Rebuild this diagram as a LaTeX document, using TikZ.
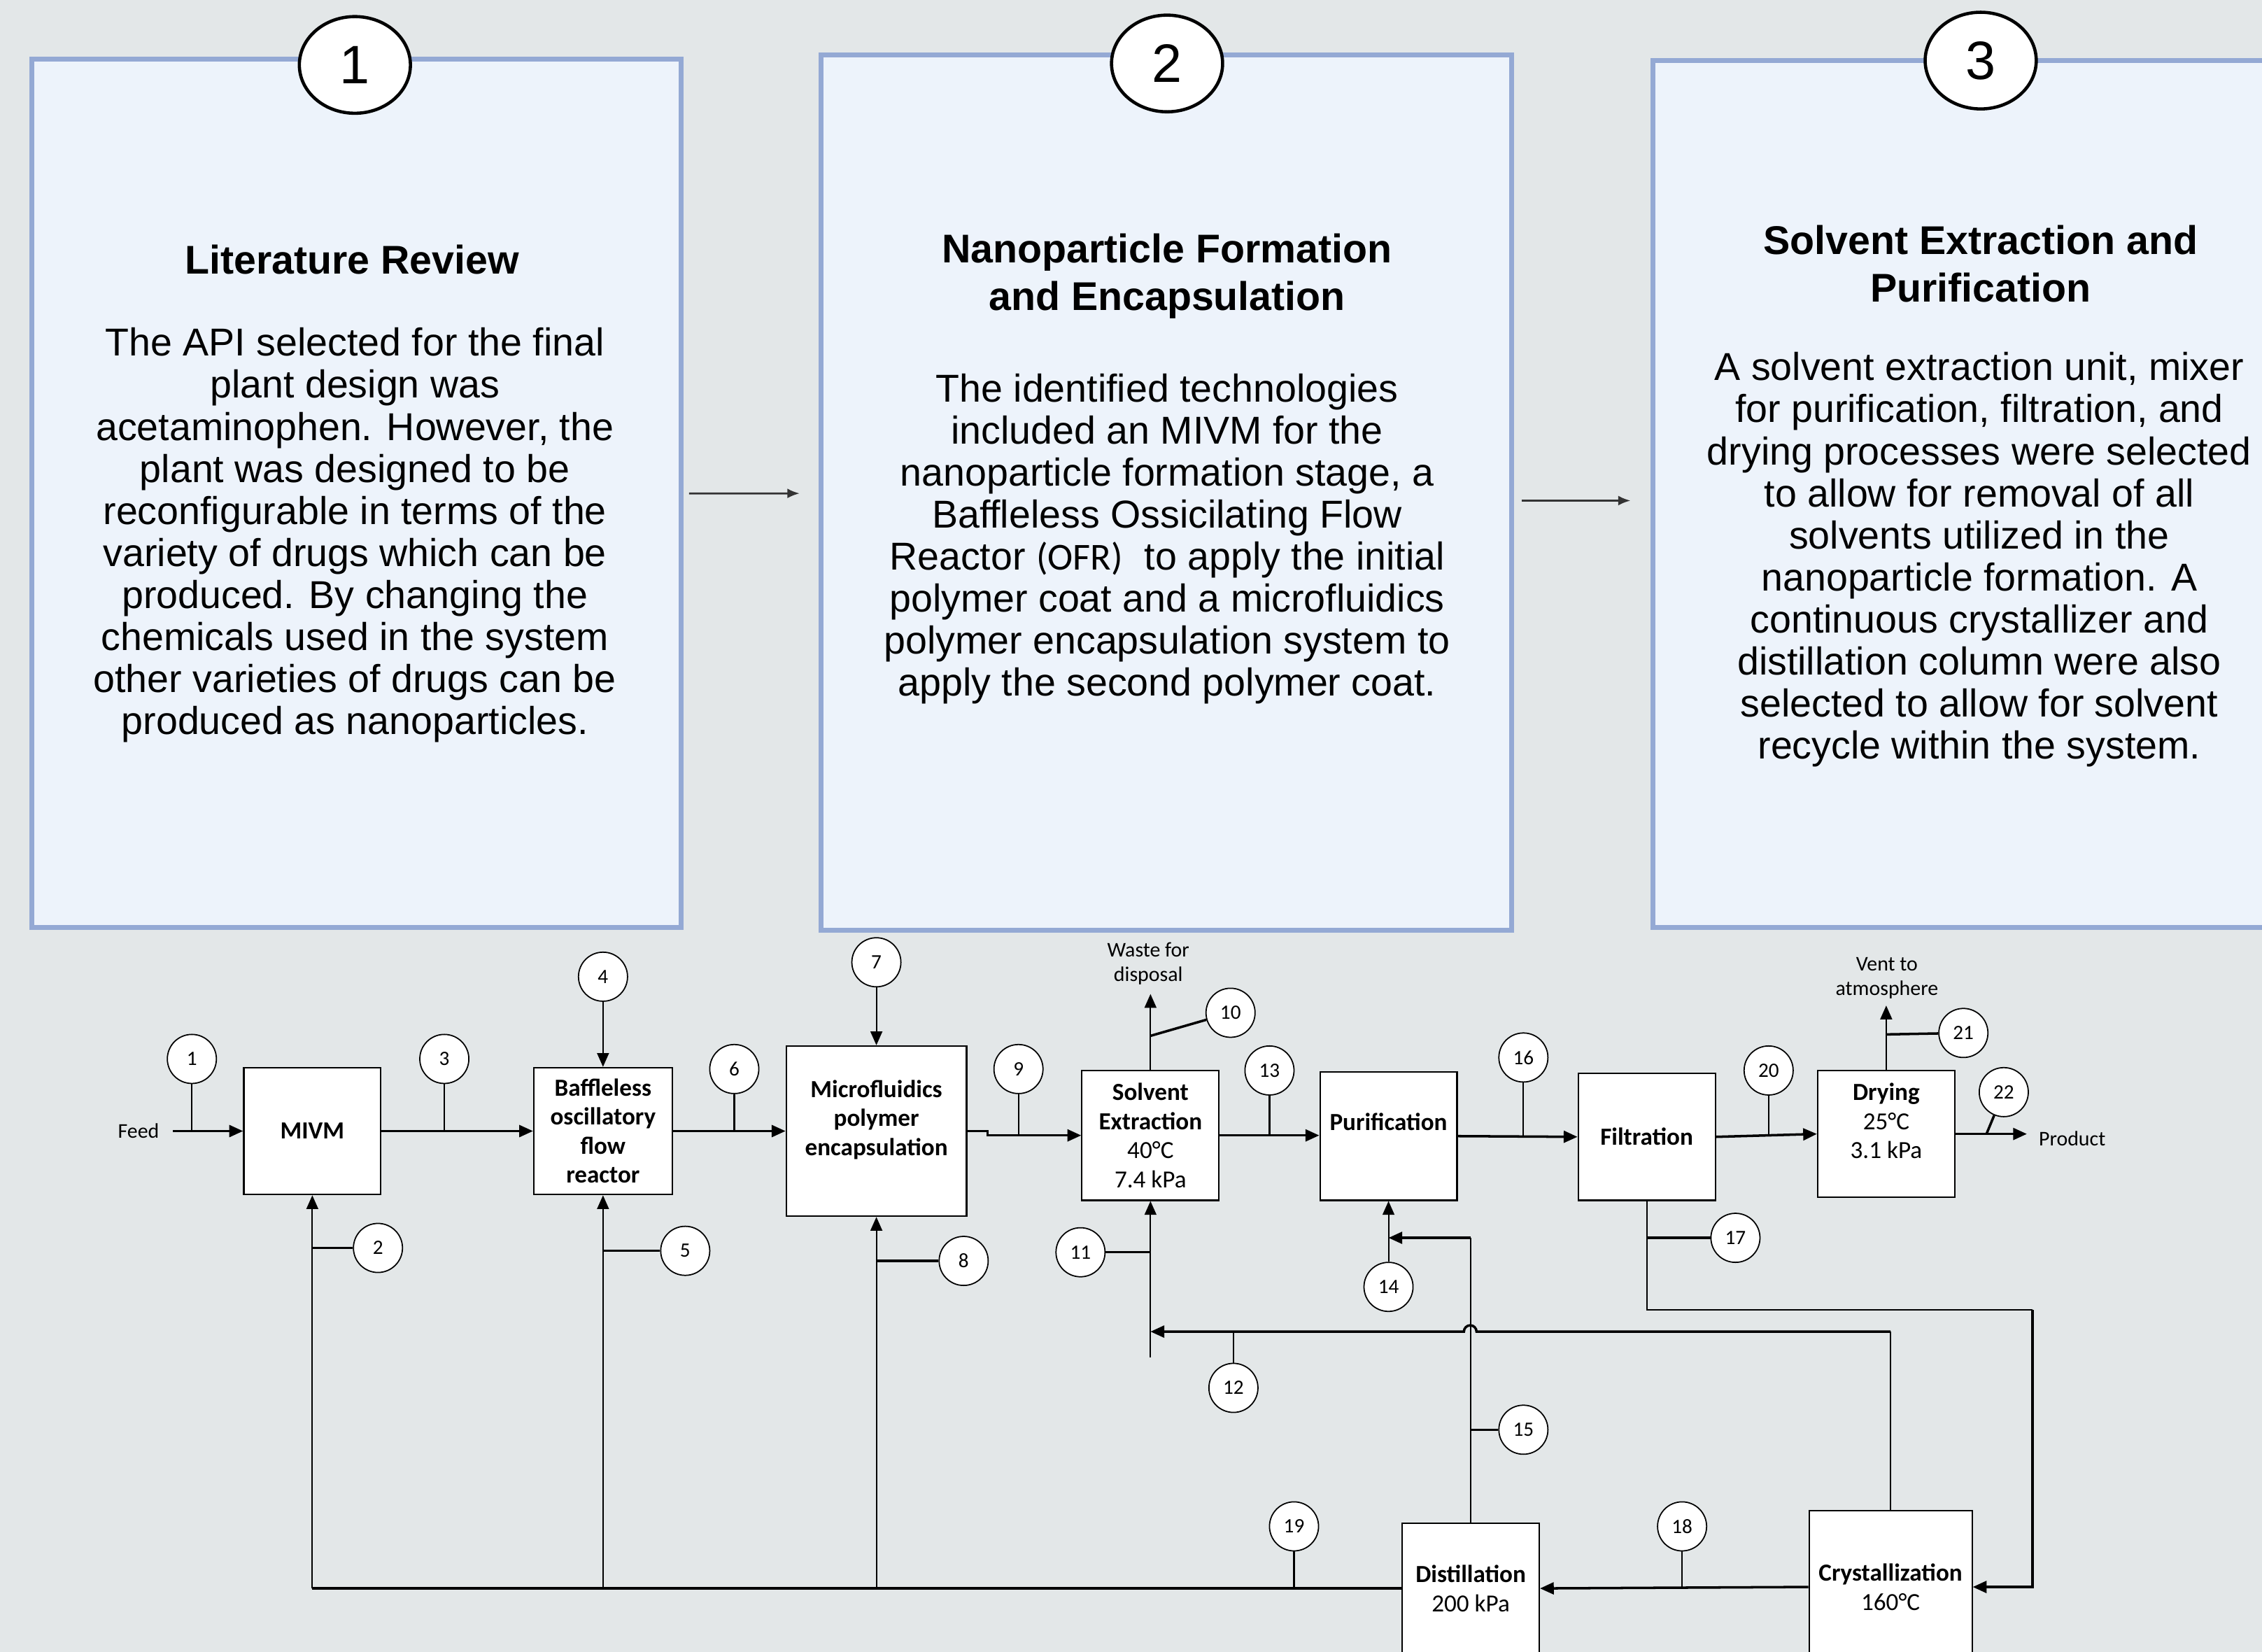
\documentclass[tikz,border=0pt]{standalone}
\usepackage{fontspec}
\setmainfont{Liberation Sans}
\newfontfamily\calf{Carlito}
\usetikzlibrary{arrows.meta,shapes.geometric,calc}
\definecolor{bgcol}{HTML}{E3E7E8}
\definecolor{panelfill}{HTML}{EDF3FB}
\definecolor{panelborder}{HTML}{94A9D4}
\definecolor{arrowgray}{HTML}{333333}
\def\ulen{0.020619cm}
\tikzset{
  panel/.style={draw=panelborder, line width=2pt, fill=panelfill, rectangle, inner sep=0pt},
  badge/.style={ellipse, draw=black, line width=1.3pt, fill=white, minimum width=77*\ulen, minimum height=67*\ulen, inner sep=0pt, font=\fontsize{22}{22}\selectfont},
  ptitle/.style={align=center, inner sep=0pt, font=\bfseries\fontsize{16.3}{19.3}\selectfont},
  pbody/.style={align=center, inner sep=0pt, font=\fontsize{15.8}{17.1}\selectfont},
  parrow/.style={-{Latex[length=5pt,width=4pt]}, line width=0.8pt, draw=arrowgray},
  unitbox/.style={draw=black, line width=0.6pt, fill=white, rectangle, align=center, inner sep=0pt, font=\calf\bfseries\fontsize{10}{11.8}\selectfont},
  snum/.style={circle, draw=black, line width=0.5pt, fill=white, minimum size=34*\ulen, inner sep=0pt, font=\calf\fontsize{8.3}{8.3}\selectfont},
  lbl/.style={align=center, inner sep=0pt, font=\calf\fontsize{8.5}{10}\selectfont},
  flow/.style={-{Triangle[length=5.6pt,width=4.8pt]}, line width=1pt},
  flowthin/.style={-{Triangle[length=5.6pt,width=4.8pt]}, line width=0.6pt},
  sline/.style={line width=0.6pt},
  mline/.style={line width=1pt}
}
\begin{document}
\begin{tikzpicture}[x=0.020619cm, y=-0.020619cm]
\fill[bgcol] (0,0) rectangle (1568,1145);
\useasboundingbox (0,0) rectangle (1568,1145);
\clip (0,0) rectangle (1568,1145);

% ---------- top panels ----------
\node[panel, minimum width=450*\ulen, minimum height=602*\ulen] (p1) at (247,342) {};
\node[panel, minimum width=479*\ulen, minimum height=607*\ulen] (p2) at (808.5,341.5) {};
\node[panel, minimum width=434*\ulen, minimum height=601*\ulen] (p3) at (1363,342.5) {};

\node[badge] (b1) at (246,45) {1};
\node[badge] (b2) at (809,44) {2};
\node[badge] (b3) at (1373,42) {3};

\node[ptitle] (t1) at (244,180) {Literature Review};
\node[pbody] (x1) at (246,371) {The API selected for the final\\plant design was\\acetaminophen. However, the\\plant was designed to be\\reconfigurable in terms of the\\variety of drugs which can be\\produced. By changing the\\chemicals used in the system\\other varieties of drugs can be\\produced as nanoparticles.};

\node[ptitle] (t2) at (809,191.5) {Nanoparticle Formation\\and Encapsulation};
\node[pbody] (x2) at (809,373.5) {The identified technologies\\included an MIVM for the\\nanoparticle formation stage, a\\Baffleless Ossicilating Flow\\Reactor {\calf\fontsize{15.5}{17}\selectfont(OFR)}\ \ to apply the initial\\polymer coat and a microfluidics\\polymer encapsulation system to\\apply the second polymer coat.};

\node[ptitle] (t3) at (1373,183) {Solvent Extraction and\\Purification};
\node[pbody] (x3) at (1372,388) {A solvent extraction unit, mixer\\for purification, filtration, and\\drying processes were selected\\to allow for removal of all\\solvents utilized in the\\nanoparticle formation. A\\continuous crystallizer and\\distillation column were also\\selected to allow for solvent\\recycle within the system.};

\draw[parrow] ($(p1.east)+(4,0)$) -- ($(p2.west)+(-13,0.5)$);
\draw[parrow] ($(p2.east)+(5,5.5)$) -- ($(p3.west)+(-14,4.5)$);

% ---------- process units ----------
\node[unitbox, minimum width=95*\ulen, minimum height=88*\ulen] (mivm) at (216.5,784) {MIVM};
\node[unitbox, minimum width=96*\ulen, minimum height=88*\ulen] (bofr) at (418,784) {Baffleless\\oscillatory\\flow\\reactor};
\node[unitbox, minimum width=125*\ulen, minimum height=118*\ulen] (micro) at (607.5,784) {Microfluidics\\polymer\\encapsulation\\[-4.6pt]\strut};
\node[unitbox, minimum width=95*\ulen, minimum height=90*\ulen] (solv) at (797.5,787) {Solvent\\Extraction\\{\mdseries 40°C}\\{\mdseries 7.4 kPa}};
\node[unitbox, minimum width=95*\ulen, minimum height=89*\ulen] (puri) at (962.5,787.5) {Purification\\[-3.5pt]\strut};
\node[unitbox, minimum width=95*\ulen, minimum height=88*\ulen] (filt) at (1141.5,788) {Filtration};
\node[unitbox, minimum width=95*\ulen, minimum height=88*\ulen] (dry) at (1307.5,786) {Drying\\{\mdseries 25°C}\\{\mdseries 3.1 kPa}\\[-4.6pt]\strut};
\node[unitbox, minimum width=95*\ulen, minimum height=90*\ulen] (dist) at (1019.5,1101) {Distillation\\{\mdseries 200 kPa}};
\node[unitbox, minimum width=113*\ulen, minimum height=106*\ulen] (cryst) at (1310.5,1100) {Crystallization\\{\mdseries 160°C}};

% ---------- labels ----------
\node[lbl] (feed) at (96,784) {Feed};
\node[lbl, anchor=west] (prod) at (1413,789) {Product};
\node[lbl] (wastetxt) at (796,668) {Waste for\\disposal};
\node[lbl] (venttxt) at (1308,678) {Vent to\\atmosphere};

% ---------- free ends ----------
\coordinate (feedstart) at (120,784);
\coordinate (waste) at (797.5,689);
\coordinate (w10) at (797.5,718);
\coordinate (vent) at (1307.5,697);
\coordinate (v21) at (1307.5,717);
\coordinate (prodend) at (1405,786);
\coordinate (p22) at (1377,786);
\coordinate (fcorner) at (1409,908);
\coordinate (hopR) at (1023.5,923);
\coordinate (sbot) at (797.5,941);
\coordinate (p14j) at (962.5,858);

% ---------- stream numbers ----------
\node[snum] (s1) at (133,734) {1};
\node[snum] (s2) at (262,865) {2};
\node[snum] (s3) at (308,734) {3};
\node[snum] (s4) at (418,677) {4};
\node[snum] (s5) at (475,867) {5};
\node[snum] (s6) at (509,741) {6};
\node[snum] (s7) at (607.5,667) {7};
\node[snum] (s8) at (668,874) {8};
\node[snum] (s9) at (706,741) {9};
\node[snum] (s10) at (853,702) {10};
\node[snum] (s11) at (749,868) {11};
\node[snum] (s12) at (855,962) {12};
\node[snum] (s13) at (880,742) {13};
\node[snum] (s14) at (962.5,892) {14};
\node[snum] (s15) at (1056,991) {15};
\node[snum] (s16) at (1056,733) {16};
\node[snum] (s17) at (1203,858) {17};
\node[snum] (s18) at (1166,1058) {18};
\node[snum] (s19) at (897,1058) {19};
\node[snum] (s20) at (1226,742) {20};
\node[snum] (s21) at (1361,716) {21};
\node[snum] (s22) at (1389,757) {22};

% ---------- main process line ----------
\draw[flow] (feedstart) -- (mivm.west);
\draw[flow] (mivm.east) -- (bofr.west);
\draw[flow] (bofr.east) -- (micro.west);
\draw[flow] (micro.east) -- ++(14,0) -- ++(0,3) -- (solv.west);
\draw[flow] (solv.east) -- (solv.east -| puri.west);
\draw[flow] (puri.east) -- (filt.west);
\draw[flow] (filt.east) -- (dry.west);
\draw[flow] (dry.east) -- (prodend);

\draw[flowthin] (s4) -- (s4 |- bofr.north);
\draw[flowthin] (s7) -- (micro.north);
\draw[flowthin] (solv.north) -- (waste);
\draw[flowthin] (dry.north) -- (vent);

% ---------- stream leaders ----------
\draw[sline] (s1) -- (s1 |- mivm.west);
\draw[sline] (s3) -- (s3 |- mivm.east);
\draw[sline] (s6) -- (s6 |- bofr.east);
\draw[sline] (s9) -- (s9 |- solv.west);
\draw[mline] (w10) -- (s10);
\draw[sline] (s13) -- (s13 |- solv.east);
\draw[sline] (s16) -- (s16 |- filt.west);
\draw[sline] (s20) -- (s20 |- dry.west);
\draw[mline] (v21) -- (s21);
\draw[mline] (s22) -- (p22);

% ---------- recycle network ----------
\draw[mline] (dist.west) -- (dist.west -| mivm.south);
\draw[flowthin] (dist.west -| mivm.south) -- (mivm.south);
\draw[flowthin] (dist.west -| bofr.south) -- (bofr.south);
\draw[flowthin] (dist.west -| micro.south) -- (micro.south);
\draw[mline] (s2) -- (s2 -| mivm.south);
\draw[mline] (s5) -- (s5 -| bofr.south);
\draw[mline] (s8) -- (s8 -| micro.south);
\draw[sline] (s19) -- (s19 |- dist.west);

\draw[flow] (cryst.west) -- (dist.east);
\draw[sline] (s18) -- (s18 |- dist.east);

\draw[sline] (filt.south) |- (fcorner);
\draw[flow] (fcorner) |- (cryst.east);
\draw[mline] (s17) -- (s17 -| filt.south);

\draw[sline] (cryst.north) -- (cryst.north |- hopR);
\draw[flow] (cryst.north |- hopR) -- (hopR) arc[start angle=0, end angle=180, radius=0.09cm] -- (sbot |- hopR);
\draw[sline] (s12) -- (s12 |- hopR);

\draw[flowthin] (sbot) -- (solv.south);
\draw[mline] (s11) -- (s11 -| solv.south);

\draw[sline] (dist.north) -- (dist.north |- p14j);
\draw[flow] (dist.north |- p14j) -- (p14j);
\draw[flowthin] (s14) -- (puri.south);
\draw[mline] (s15) -- (s15 -| dist.north);
\end{tikzpicture}
\end{document}
